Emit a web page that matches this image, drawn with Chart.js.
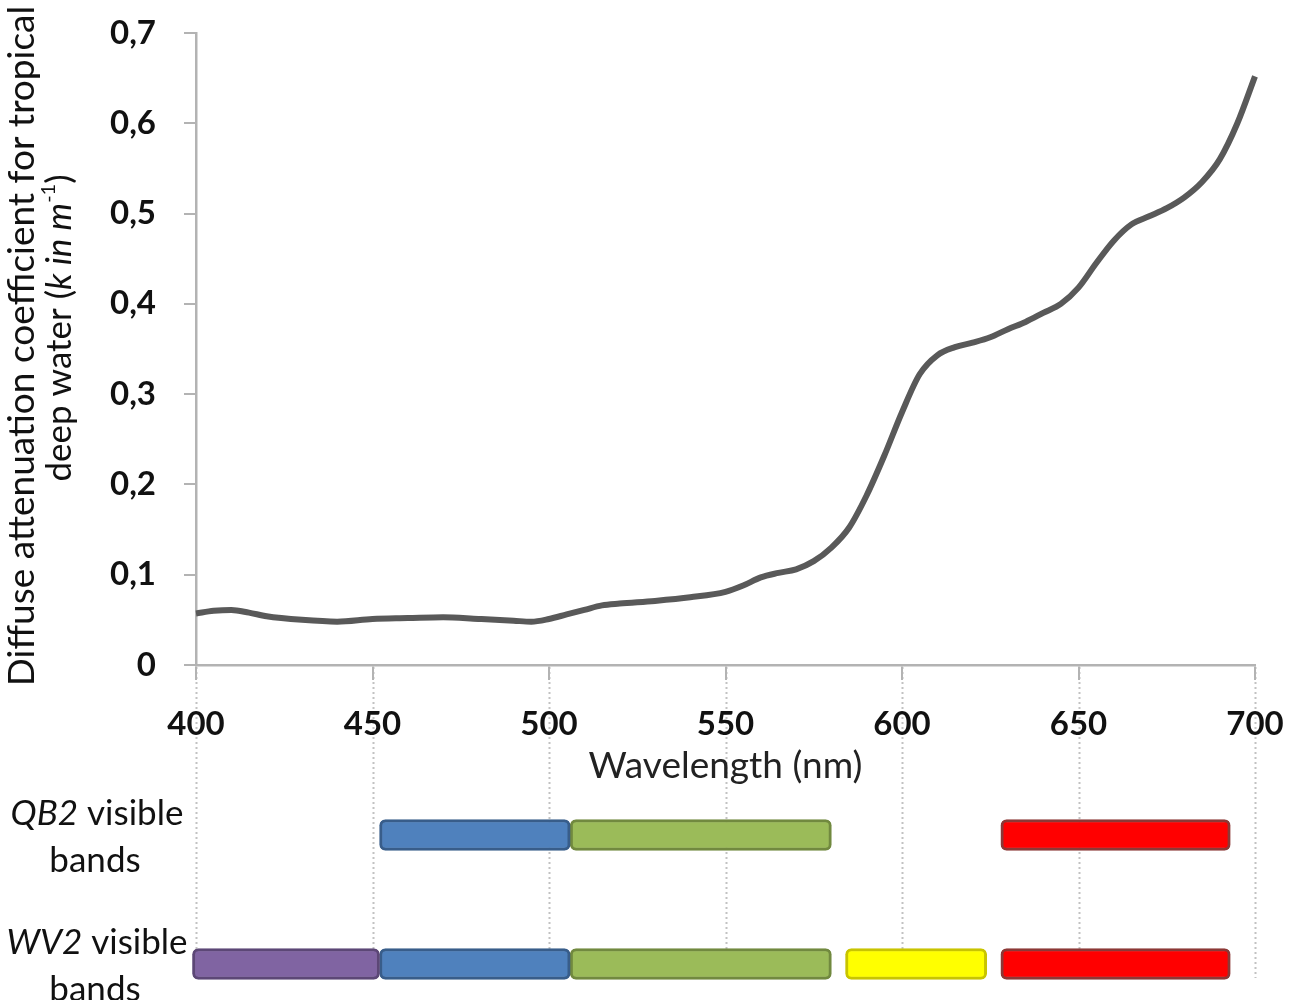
<!DOCTYPE html>
<html>
<head>
<meta charset="utf-8">
<script src="https://cdn.jsdelivr.net/npm/chart.js@4.4.1/dist/chart.umd.min.js"></script>
<style>
  html, body { margin: 0; padding: 0; background: #fff; overflow: hidden; }
  #wrap { position: relative; width: 1290px; height: 1000px; }
  #curve { position: absolute; left: 0; top: 0; }
  #bands { position: absolute; left: 0; top: 780px; }
</style>
</head>
<body>
<div id="wrap">
  <canvas id="curve" width="1290" height="1000"></canvas>
  <canvas id="bands" width="1290" height="220"></canvas>
</div>
<script>
// Diffuse attenuation curve
const wavelengths = [400, 405, 410, 415, 420, 430, 440, 450, 460, 470, 480, 490, 495, 500, 505, 510, 515, 520, 530, 540,
                     550, 555, 560, 565, 570, 575, 580, 585, 590, 595, 600, 605, 610, 615, 620, 625, 630, 635, 640, 645,
                     650, 655, 660, 665, 670, 675, 680, 685, 690, 695, 700];
const attenuation = [0.057, 0.060, 0.061, 0.058, 0.054, 0.050, 0.048, 0.051, 0.052, 0.053, 0.051, 0.049, 0.048, 0.051, 0.056, 0.061, 0.066, 0.068, 0.071, 0.075,
                     0.081, 0.088, 0.097, 0.102, 0.106, 0.115, 0.130, 0.152, 0.188, 0.232, 0.280, 0.322, 0.343, 0.352, 0.357, 0.363, 0.372, 0.380, 0.390, 0.400,
                     0.418, 0.445, 0.470, 0.488, 0.497, 0.506, 0.518, 0.535, 0.560, 0.600, 0.652];

// Axis ticks
const xTicks = [400, 450, 500, 550, 600, 650, 700];
const yTicks = [0, 0.1, 0.2, 0.3, 0.4, 0.5, 0.6, 0.7];

// Sensor bands (nm)
const sensors = ['QB2', 'WV2'];
const bandNames = ['Coastal', 'Blue', 'Green', 'Yellow', 'Red'];
const qb2Ranges = [null, [452, 506], [506, 580], null, [628, 693]];
const wv2Ranges = [[399, 452], [452, 506], [506, 580], [584, 624], [628, 693]];
const bandFill = ['#8064a2', '#4f81bd', '#9bbb59', '#ffff00', '#ff0000'];
const bandEdge = ['#5c4776', '#385d8a', '#71893f', '#c8c400', '#8c3836'];

const FONT = 'Lato, "Open Sans", sans-serif';

// dotted guide lines from the x axis down through the band rows
const dropLines = {
  id: 'dropLines',
  beforeDraw(chart) {
    const { ctx, chartArea } = chart;
    const x = chart.scales.x;
    ctx.save();
    ctx.strokeStyle = '#c2c2c2';
    ctx.lineWidth = 2;
    ctx.setLineDash([2, 3]);
    xTicks.forEach(v => {
      const px = Math.round(x.getPixelForValue(v)) + 0.5;
      ctx.beginPath();
      ctx.moveTo(px, chartArea.bottom + 2);
      ctx.lineTo(px, 978);
      ctx.stroke();
    });
    ctx.restore();
  }
};

// two line y title with italic part and superscript
const yTitle = {
  id: 'yTitle',
  afterDraw(chart) {
    const ctx = chart.ctx;
    ctx.save();
    ctx.fillStyle = '#111';
    ctx.textBaseline = 'middle';
    ctx.translate(22, 346);
    ctx.rotate(-Math.PI / 2);
    ctx.font = '37px ' + FONT;
    ctx.textAlign = 'center';
    ctx.fillText('Diffuse attenuation coefficient for tropical', 0, 0);
    ctx.restore();

    ctx.save();
    ctx.fillStyle = '#111';
    ctx.textBaseline = 'middle';
    ctx.translate(60, 328);
    ctx.rotate(-Math.PI / 2);
    ctx.textAlign = 'left';
    const parts = [
      ['deep water (', '35px ' + FONT, 0],
      ['k in m', 'italic 35px ' + FONT, 0],
      ['-1', '20px ' + FONT, -11],
      [')', '35px ' + FONT, 0]
    ];
    let total = 0;
    parts.forEach(p => { ctx.font = p[1]; total += ctx.measureText(p[0]).width; });
    let cx = -total / 2;
    parts.forEach(p => {
      ctx.font = p[1];
      ctx.fillText(p[0], cx, p[2]);
      cx += ctx.measureText(p[0]).width;
    });
    ctx.restore();
  }
};

new Chart(document.getElementById('curve'), {
  type: 'line',
  data: {
    datasets: [{
      data: wavelengths.map((w, i) => ({ x: w, y: attenuation[i] })),
      borderColor: '#595959',
      borderWidth: 6,
      pointRadius: 0,
      fill: false,
      cubicInterpolationMode: 'monotone',
      clip: 8
    }]
  },
  options: {
    responsive: false,
    animation: false,
    layout: { padding: { left: 0, right: 35, top: 33, bottom: 200 } },
    plugins: { legend: { display: false }, tooltip: { enabled: false } },
    scales: {
      x: {
        type: 'linear',
        min: 400,
        max: 700,
        afterBuildTicks: s => { s.ticks = xTicks.map(v => ({ value: v })); },
        afterFit: s => { s.height = 135; s.paddingLeft = 0; s.paddingRight = 0; },
        ticks: { color: '#111', font: { family: FONT, size: 33, weight: 'bold' }, padding: 25, maxRotation: 0 },
        grid: { drawOnChartArea: false, color: '#b3b3b3', lineWidth: 2, tickLength: 15 },
        border: { color: '#b3b3b3', width: 2.5 },
        title: { display: true, text: 'Wavelength (nm)', color: '#222', font: { family: FONT, size: 37 }, padding: { top: 0, bottom: 12 } }
      },
      y: {
        min: 0,
        max: 0.7,
        afterBuildTicks: s => { s.ticks = yTicks.map(v => ({ value: v })); },
        afterFit: s => { s.width = 196; s.paddingTop = 0; s.paddingBottom = 0; },
        ticks: {
          color: '#111',
          font: { family: FONT, size: 33, weight: 'bold' },
          padding: 28,
          callback: v => v === 0 ? '0' : v.toFixed(1).replace('.', ',')
        },
        grid: { drawOnChartArea: false, color: '#b3b3b3', lineWidth: 2, tickLength: 12 },
        border: { color: '#b3b3b3', width: 2.5 }
      }
    }
  },
  plugins: [dropLines, yTitle]
});

// row labels next to the band bars
const rowLabels = {
  id: 'rowLabels',
  afterDraw(chart) {
    const { ctx } = chart;
    const y = chart.scales.y;
    ctx.save();
    ctx.fillStyle = '#111';
    ctx.textBaseline = 'middle';
    sensors.forEach((name, i) => {
      const cy = y.getPixelForValue(i);
      ctx.font = 'italic 35px ' + FONT;
      const w1 = ctx.measureText(name).width;
      ctx.font = '35px ' + FONT;
      const w2 = ctx.measureText(' visible').width;
      let sx = 97 - (w1 + w2) / 2;
      ctx.textAlign = 'left';
      ctx.font = 'italic 35px ' + FONT;
      ctx.fillText(name, sx, cy - 21);
      ctx.font = '35px ' + FONT;
      ctx.fillText(' visible', sx + w1, cy - 21);
      ctx.textAlign = 'center';
      ctx.fillText('bands', 95, cy + 26);
    });
    ctx.restore();
  }
};

new Chart(document.getElementById('bands'), {
  type: 'bar',
  data: {
    labels: sensors,
    datasets: bandNames.map((name, i) => ({
      label: name,
      data: [qb2Ranges[i], wv2Ranges[i]],
      backgroundColor: bandFill[i],
      borderColor: bandEdge[i],
      borderWidth: 3,
      borderRadius: 6,
      borderSkipped: false,
      barThickness: 31,
      grouped: false,
      clip: false
    }))
  },
  options: {
    indexAxis: 'y',
    responsive: false,
    animation: false,
    layout: { padding: { left: 196, right: 35, top: 55, bottom: 36 } },
    plugins: { legend: { display: false }, tooltip: { enabled: false } },
    scales: {
      x: { type: 'linear', min: 400, max: 700, display: false },
      y: { display: false, offset: false }
    }
  },
  plugins: [rowLabels]
});
</script>
</body>
</html>
